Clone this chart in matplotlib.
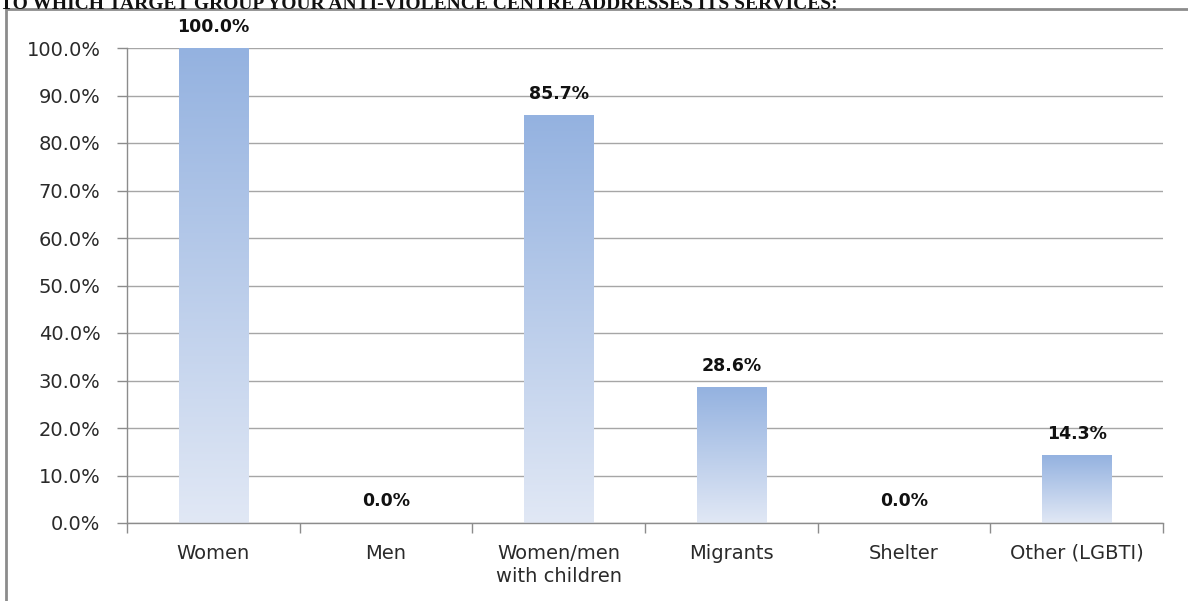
import numpy as np
import matplotlib
matplotlib.use("Agg")
import matplotlib.pyplot as plt
from matplotlib.patches import Rectangle
from matplotlib.colors import LinearSegmentedColormap
from matplotlib.ticker import MultipleLocator, FuncFormatter

categories = ["Women", "Men", "Women/men\nwith children", "Migrants", "Shelter", "Other (LGBTI)"]
values = [100.0, 0.0, 85.7, 28.6, 0.0, 14.3]
title = "TO WHICH TARGET GROUP YOUR ANTI-VIOLENCE CENTRE ADDRESSES ITS SERVICES:"

plt.rcParams['font.family'] = ['DejaVu Sans']

fig = plt.figure(figsize=(11.88, 6.01), dpi=100)
W, H = 1188, 601
ax = fig.add_axes([127 / W, 1 - 523 / H, (1163 - 127) / W, (523 - 48) / H])

# outer frame of the chart (partly cut off by the image edge)
frame = Rectangle((6 / W, -0.05), 1.1, 1 - 9 / H + 0.05, transform=fig.transFigure,
                  fill=False, edgecolor="#8c8c8c", lw=2, clip_on=False)
fig.patches.append(frame)

fig.text(0.0, 1 - 9 / H, title, family="Liberation Serif", weight="bold",
         fontsize=14, va="baseline", ha="left", color="#111111")

x = np.arange(len(categories))
bw = 0.4
cmap = LinearSegmentedColormap.from_list("grad", ["#e1e8f5", "#94b2e0"])
grad = np.linspace(0, 1, 256).reshape(-1, 1)

for xi, v in zip(x, values):
    if v > 0:
        ax.imshow(grad, cmap=cmap, origin="lower", aspect="auto",
                  extent=(xi - bw / 2, xi + bw / 2, 0, v), zorder=2)
    ax.annotate(f"{v:.1f}%", (xi, v), xytext=(0, 9), textcoords="offset points",
                ha="center", va="bottom", fontsize=12.5, weight="bold", color="#111111")

ax.set_xlim(-0.5, len(categories) - 0.5)
ax.set_ylim(0, 100)
ax.yaxis.set_major_locator(MultipleLocator(10))
ax.yaxis.set_major_formatter(FuncFormatter(lambda v, p: f"{v:.1f}%"))
ax.grid(axis="y", color="#a6a6a6", lw=1, zorder=0)
ax.set_axisbelow(True)

ax.set_xticks(x)
ax.set_xticklabels(categories, fontsize=14, color="#2a2a2a", linespacing=1.3)
ax.set_xticks(np.arange(len(categories) + 1) - 0.5, minor=True)
ax.tick_params(axis="x", which="major", length=0, pad=15)
ax.tick_params(axis="x", which="minor", length=7, color="#8c8c8c", width=1)
ax.tick_params(axis="y", length=7, color="#8c8c8c", width=1, labelsize=14,
               labelcolor="#2a2a2a", pad=12)

for s in ["top", "right"]:
    ax.spines[s].set_visible(False)
for s in ["left", "bottom"]:
    ax.spines[s].set_color("#8c8c8c")
    ax.spines[s].set_linewidth(1)

fig.savefig("out.png", dpi=100)
